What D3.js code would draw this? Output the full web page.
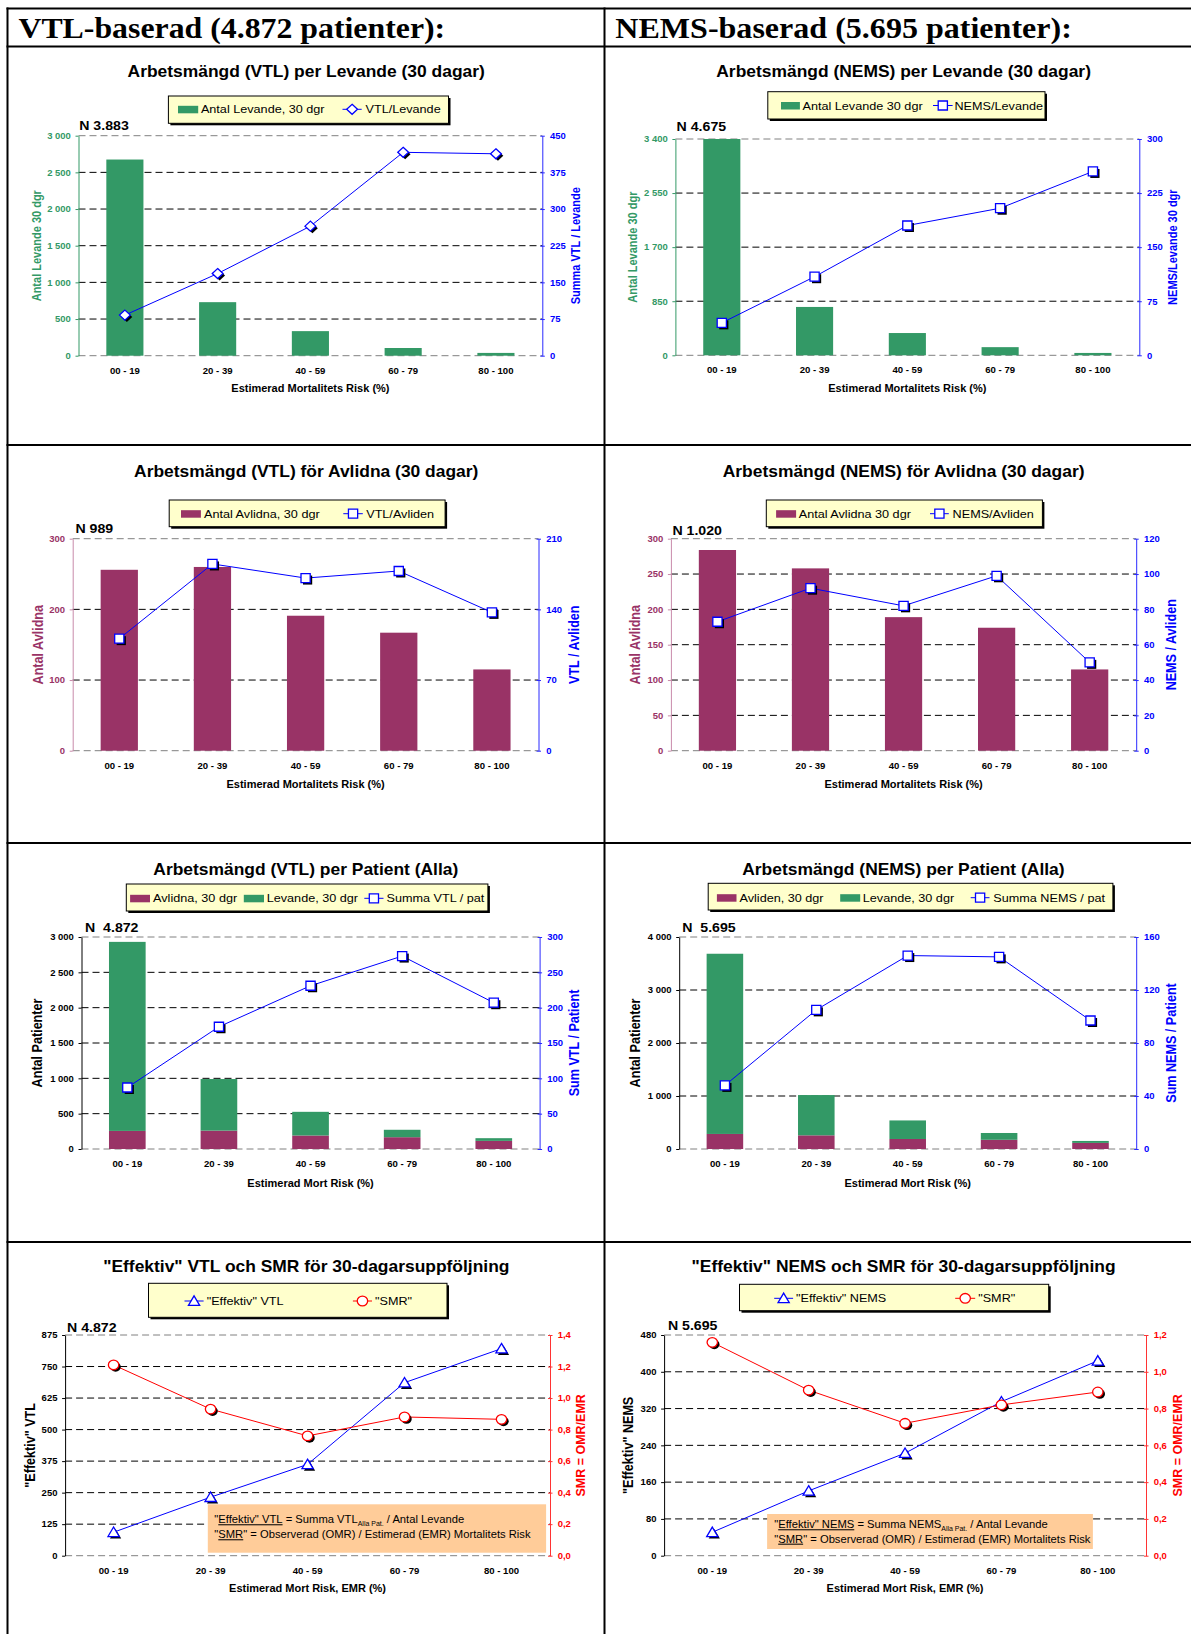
<!DOCTYPE html>
<html>
<head>
<meta charset="utf-8">
<script src="https://cdn.jsdelivr.net/npm/d3@7"></script>
<style>
  html, body { margin: 0; padding: 0; background: #fff; }
  svg { display: block; }
</style>
</head>
<body>
<svg id="page" width="1191" height="1634"></svg>
<script>
// ---- data -------------------------------------------------------------
const categories = ["00 - 19", "20 - 39", "40 - 59", "60 - 79", "80 - 100"];

// VTL-based cohort (4.872 patients)
const vtlLevande     = [2675, 730, 335, 105, 38];      // alive at 30 days (N 3.883)
const vtlPerLevande  = [83, 168, 265, 416, 413];
const vtlAvlidna     = [256, 260, 191, 167, 115];      // deceased at 30 days (N 989)
const vtlPerAvliden  = [111, 185, 171, 178, 137];
const vtlPerPatient  = [87, 173, 231, 273, 207];
const effektivVtl    = [93, 232, 362, 686, 821];
const smrVtl         = [1.21, 0.93, 0.76, 0.88, 0.865];

// NEMS-based cohort (5.695 patients)
const nemsLevande    = [3400, 760, 350, 128, 37];      // N 4.675
const nemsPerLevande = [45, 109, 180, 204, 255];
const nemsAvlidna    = [284, 258, 189, 174, 115];      // N 1.020
const nemsPerAvliden = [73, 92, 82, 99, 50];
const nemsPerPatient = [48, 105, 146, 145, 97];
const effektivNems   = [51, 141, 223, 335, 424];
const smrNems        = [1.16, 0.90, 0.72, 0.82, 0.89];

// axis tick values
const ticksLevVtl     = [0, 500, 1000, 1500, 2000, 2500, 3000];
const ticksVtlPerLev  = [0, 75, 150, 225, 300, 375, 450];
const ticksLevNems    = [0, 850, 1700, 2550, 3400];
const ticksNemsPerLev = [0, 75, 150, 225, 300];
const ticksAvlVtl     = [0, 100, 200, 300];
const ticksVtlPerAvl  = [0, 70, 140, 210];
const ticksAvlNems    = [0, 50, 100, 150, 200, 250, 300];
const ticksNemsPerAvl = [0, 20, 40, 60, 80, 100, 120];
const ticksPatVtl     = [0, 500, 1000, 1500, 2000, 2500, 3000];
const ticksVtlPerPat  = [0, 50, 100, 150, 200, 250, 300];
const ticksPatNems    = [0, 1000, 2000, 3000, 4000];
const ticksNemsPerPat = [0, 40, 80, 120, 160];
const ticksEffVtl     = [0, 125, 250, 375, 500, 625, 750, 875];
const ticksSmrVtl     = [0, 0.2, 0.4, 0.6, 0.8, 1.0, 1.2, 1.4];
const ticksEffNems    = [0, 80, 160, 240, 320, 400, 480];
const ticksSmrNems    = [0, 0.2, 0.4, 0.6, 0.8, 1.0, 1.2];

// ---- styling ----------------------------------------------------------
const GREEN = "#339966", MAROON = "#993366", BLUE = "#0000FF", RED = "#FF0000";
const SX = 1.09;                          // slight horizontal widening of all lettering
const sans = '"Liberation Sans", Arial, Helvetica, sans-serif';
const serif = '"Liberation Serif", "Times New Roman", serif';
const locale = d3.formatLocale({ decimal: ",", thousands: " ", grouping: [3], currency: ["", ""] });
const fmtInt = locale.format(",d");
const fmtDec = locale.format(".1f");

const svg = d3.select("#page");
svg.append("rect").attr("width", 1191).attr("height", 1634).attr("fill", "#fff");

function label(parent, x, y, s, o = {}) {
  const t = parent.append("text")
    .attr("transform", `translate(${x},${y}) scale(${SX},1)` + (o.rotate ? ` rotate(${o.rotate})` : ""))
    .attr("font-family", o.family || sans)
    .attr("font-size", o.size || 11)
    .attr("font-weight", o.weight || "normal")
    .attr("fill", o.fill || "#000")
    .attr("text-anchor", o.anchor || "start")
    .style("white-space", "pre")
    .text(s);
  if (o.central) t.attr("dominant-baseline", "central");
  return t;
}

function markerPath(type, cx, cy) {
  switch (type) {
    case "square":   return `M${cx-4.6},${cy-4.5}h9.2v9h-9.2Z`;
    case "diamond":  return `M${cx},${cy-5}L${cx+5.4},${cy}L${cx},${cy+5}L${cx-5.4},${cy}Z`;
    case "triangle": return `M${cx},${cy-5.2}L${cx+5.6},${cy+4.3}L${cx-5.6},${cy+4.3}Z`;
    case "circle":   return `M${cx-5.2},${cy}a5.2,4.8 0 1,0 10.4,0a5.2,4.8 0 1,0 -10.4,0Z`;
  }
}

function marker(parent, type, cx, cy, color, shadow) {
  if (shadow) {
    parent.append("path").attr("d", markerPath(type, cx + 2, cy + 2)).attr("fill", "#000");
  }
  parent.append("path").attr("d", markerPath(type, cx, cy))
    .attr("fill", "#fff").attr("stroke", color).attr("stroke-width", 1.3);
}

function drawTable() {
  const g = svg.append("g").attr("stroke", "#000").attr("stroke-width", 2);
  [8.5, 46.5, 445, 843, 1242].forEach(y =>
    g.append("line").attr("x1", 6.5).attr("x2", 1191).attr("y1", y).attr("y2", y));
  [7.5, 604.5].forEach(x =>
    g.append("line").attr("x1", x).attr("x2", x).attr("y1", 7.5).attr("y2", 1634));
  label(svg, 18.4, 38.3, "VTL-baserad (4.872 patienter):", { family: serif, size: 29.2, weight: "bold" });
  label(svg, 615.3, 38.3, "NEMS-baserad (5.695 patienter):", { family: serif, size: 29.4, weight: "bold" });
}

function drawLegend(g, L) {
  g.append("rect").attr("x", L.x + 2).attr("y", L.y + 2).attr("width", L.w).attr("height", L.h).attr("fill", "#000");
  g.append("rect").attr("x", L.x).attr("y", L.y).attr("width", L.w).attr("height", L.h)
    .attr("fill", "#FFFFCC").attr("stroke", "#000").attr("stroke-width", 1);
  L.items.forEach(it => {
    if (it.kind === "bar") {
      g.append("rect").attr("x", it.x).attr("y", L.ty - 7.5).attr("width", it.w).attr("height", 7.5).attr("fill", it.color);
    } else {
      const my = L.ty - 4;
      g.append("line").attr("x1", it.x1).attr("x2", it.x2).attr("y1", my).attr("y2", my)
        .attr("stroke", it.color).attr("stroke-width", 1);
      marker(g, it.marker, (it.x1 + it.x2) / 2, my, it.color, false);
    }
    label(g, it.tx, L.ty, it.label, { size: 11.6 });
  });
}

function drawNote(g, N) {
  g.append("rect").attr("x", N.x0).attr("y", N.y0).attr("width", N.x1 - N.x0).attr("height", N.y1 - N.y0)
    .attr("fill", "#FFCC99");
  const mk = (y) => g.append("text")
    .attr("transform", `translate(${N.tx},${y}) scale(${SX},1)`)
    .attr("font-family", sans).attr("font-size", 10.3).attr("fill", "#000")
    .style("white-space", "pre");
  const t1 = mk(N.b1);
  t1.append("tspan").text('"');
  t1.append("tspan").style("text-decoration", "underline").text(`Effektiv" ${N.unit}`);
  t1.append("tspan").text(` = Summa ${N.unit}`);
  t1.append("tspan").attr("font-size", 6.4).attr("dy", 2.2).text("Alla Pat.");
  t1.append("tspan").attr("dy", -2.2).text(" / Antal Levande");
  const t2 = mk(N.b2);
  t2.append("tspan").text('"');
  t2.append("tspan").style("text-decoration", "underline").text("SMR");
  t2.append("tspan").text('" = Observerad (OMR) / Estimerad (EMR) Mortalitets Risk');
}

function drawPanel(p) {
  const g = svg.append("g");
  const x = d3.scaleBand().domain(categories).range([p.x0, p.x1]).paddingInner(0.6).paddingOuter(0.3);
  const yL = d3.scaleLinear().domain([0, d3.max(p.leftTicks)]).range([p.bottom, p.top]).clamp(true);
  const yR = d3.scaleLinear().domain([0, d3.max(p.rightTicks)]).range([p.bottom, p.top]);
  const cx = c => x(c) + x.bandwidth() / 2;

  label(g, p.titleX, p.titleY, p.title, { size: 16, weight: "bold", anchor: "middle" });

  // dashed value grid
  g.append("g").selectAll("line").data(p.leftTicks).join("line")
    .attr("x1", p.x0).attr("x2", p.x1)
    .attr("y1", d => yL(d)).attr("y2", d => yL(d))
    .attr("stroke", (d, i, a) => (i === 0 || i === a.length - 1) ? "#808080" : "#000")
    .attr("stroke-width", 1)
    .attr("stroke-dasharray", "7,4");

  if (p.note) drawNote(g, p.note);

  // bars
  if (p.stack) {
    const rows = categories.map((c, i) => ({ cat: c, a: p.stack[0].values[i], b: p.stack[1].values[i] }));
    const series = d3.stack().keys(["a", "b"])(rows);
    g.append("g").selectAll("g").data(series).join("g")
      .attr("fill", (d, i) => p.stack[i].color)
      .selectAll("rect").data(d => d).join("rect")
      .attr("x", d => x(d.data.cat)).attr("width", x.bandwidth())
      .attr("y", d => yL(d[1])).attr("height", d => yL(d[0]) - yL(d[1]));
  } else if (p.bars) {
    g.append("g").selectAll("rect").data(p.bars.values).join("rect")
      .attr("fill", p.bars.color)
      .attr("x", (d, i) => x(categories[i])).attr("width", x.bandwidth())
      .attr("y", d => yL(d)).attr("height", d => yL(0) - yL(d));
  }

  // left axis
  const gl = g.append("g").attr("transform", `translate(${p.x0},0)`)
    .call(d3.axisLeft(yL).tickValues(p.leftTicks).tickFormat(p.leftFmt || fmtInt).tickSize(3).tickSizeOuter(0));
  gl.select(".domain").attr("stroke", p.leftLine);
  gl.selectAll(".tick line").attr("stroke", p.leftLine);
  gl.selectAll(".tick text").attr("fill", p.leftColor).attr("font-size", 8.7).attr("font-weight", "bold")
    .attr("font-family", sans).attr("x", -7.7 / SX).attr("transform", `scale(${SX},1)`);

  // right axis
  const gr = g.append("g").attr("transform", `translate(${p.x1},0)`)
    .call(d3.axisRight(yR).tickValues(p.rightTicks).tickFormat(p.rightFmt || fmtInt).tickSize(3).tickSizeOuter(0));
  gr.select(".domain").attr("stroke", p.rightLine);
  gr.selectAll(".tick line").attr("stroke", p.rightLine).attr("x1", -2).attr("x2", 2.5);
  gr.selectAll(".tick text").attr("fill", p.rightColor).attr("font-size", 8.7).attr("font-weight", "bold")
    .attr("font-family", sans).attr("x", 7.7 / SX).attr("transform", `scale(${SX},1)`);

  // category labels
  const gx = g.append("g").attr("transform", `translate(0,${p.bottom})`)
    .call(d3.axisBottom(x).tickSize(0));
  gx.select(".domain").remove();
  gx.selectAll(".tick text").attr("y", 18).attr("dy", 0).attr("fill", "#000").attr("font-size", 8.8)
    .attr("font-weight", "bold").attr("font-family", sans).attr("transform", `scale(${SX},1)`);

  // axis titles
  const midY = (p.top + p.bottom) / 2;
  label(g, (p.x0 + p.x1) / 2, p.xTitleY, p.xTitle, { size: 10.1, weight: "bold", anchor: "middle" });
  label(g, p.leftTitleX, midY, p.leftTitle,
    { size: p.leftTitleSize, weight: "bold", anchor: "middle", central: true, rotate: -90, fill: p.leftColor });
  label(g, p.rightTitleX, midY, p.rightTitle,
    { size: p.rightTitleSize, weight: "bold", anchor: "middle", central: true, rotate: -90, fill: p.rightColor });

  // N label
  label(g, p.n.x, p.n.y, p.n.text, { size: 13, weight: "bold" });

  // line series with shadowed markers
  p.lines.forEach(s => {
    const yS = s.axis === "left" ? yL : yR;
    const line = d3.line().x((d, i) => cx(categories[i])).y(d => yS(d));
    g.append("path").attr("d", line(s.values)).attr("fill", "none").attr("stroke", s.color).attr("stroke-width", 1);
    const mg = g.append("g");
    s.values.forEach((v, i) => marker(mg, s.marker, cx(categories[i]), yS(v), s.color, true));
  });

  drawLegend(g.append("g"), p.legend);
}

drawTable();

// ---- panels -----------------------------------------------------------
drawPanel({
  title: "Arbetsmängd (VTL) per Levande (30 dagar)", titleX: 306.2, titleY: 77.3,
  x0: 78.5, x1: 542.3, top: 135.7, bottom: 355.7,
  leftTicks: ticksLevVtl, rightTicks: ticksVtlPerLev,
  leftColor: GREEN, leftLine: GREEN, rightColor: BLUE, rightLine: "#2a2aff",
  leftTitle: "Antal Levande 30 dgr", leftTitleX: 36.4, leftTitleSize: 11,
  rightTitle: "Summa VTL / Levande", rightTitleX: 576, rightTitleSize: 11,
  bars: { values: vtlLevande, color: GREEN },
  lines: [{ values: vtlPerLevande, axis: "right", color: BLUE, marker: "diamond" }],
  n: { text: "N 3.883", x: 79.2, y: 130 },
  legend: { x: 168.4, y: 96, w: 280.1, h: 27.3, ty: 113.3, items: [
    { kind: "bar", color: GREEN, x: 178, w: 20.2, label: "Antal Levande, 30 dgr", tx: 200.9 },
    { kind: "line", color: BLUE, marker: "diamond", x1: 342.5, x2: 361.7, label: "VTL/Levande", tx: 365.5 }] },
  xTitle: "Estimerad Mortalitets Risk (%)", xTitleY: 391.7
});

drawPanel({
  title: "Arbetsmängd (NEMS) per Levande (30 dagar)", titleX: 903.6, titleY: 77.3,
  x0: 675.4, x1: 1139.3, top: 139, bottom: 355.3,
  leftTicks: ticksLevNems, rightTicks: ticksNemsPerLev,
  leftColor: GREEN, leftLine: GREEN, rightColor: BLUE, rightLine: "#2a2aff",
  leftTitle: "Antal Levande 30 dgr", leftTitleX: 633.2, leftTitleSize: 11,
  rightTitle: "NEMS/Levande 30 dgr", rightTitleX: 1173.2, rightTitleSize: 11,
  bars: { values: nemsLevande, color: GREEN },
  lines: [{ values: nemsPerLevande, axis: "right", color: BLUE, marker: "square" }],
  n: { text: "N 4.675", x: 676.6, y: 131 },
  legend: { x: 767.8, y: 91.7, w: 277.2, h: 27.3, ty: 109.5, items: [
    { kind: "bar", color: GREEN, x: 781, w: 18.9, label: "Antal Levande 30 dgr", tx: 802.5 },
    { kind: "line", color: BLUE, marker: "square", x1: 933, x2: 952.6, label: "NEMS/Levande", tx: 954.5 }] },
  xTitle: "Estimerad Mortalitets Risk (%)", xTitleY: 391.7
});

drawPanel({
  title: "Arbetsmängd (VTL) för Avlidna (30 dagar)", titleX: 306.2, titleY: 476.7,
  x0: 72.7, x1: 538.5, top: 538.7, bottom: 750.7,
  leftTicks: ticksAvlVtl, rightTicks: ticksVtlPerAvl,
  leftColor: MAROON, leftLine: "#c98aaa", rightColor: BLUE, rightLine: "#2a2aff",
  leftTitle: "Antal Avlidna", leftTitleX: 38.3, leftTitleSize: 12.6,
  rightTitle: "VTL / Avliden", rightTitleX: 574, rightTitleSize: 12.6,
  bars: { values: vtlAvlidna, color: MAROON },
  lines: [{ values: vtlPerAvliden, axis: "right", color: BLUE, marker: "square" }],
  n: { text: "N 989", x: 75.4, y: 532.7 },
  legend: { x: 169.2, y: 500, w: 275.9, h: 26.7, ty: 517.7, items: [
    { kind: "bar", color: MAROON, x: 181, w: 19.9, label: "Antal Avlidna, 30 dgr", tx: 204 },
    { kind: "line", color: BLUE, marker: "square", x1: 343.3, x2: 362.8, label: "VTL/Avliden", tx: 366.2 }] },
  xTitle: "Estimerad Mortalitets Risk (%)", xTitleY: 788.3
});

drawPanel({
  title: "Arbetsmängd (NEMS) för Avlidna (30 dagar)", titleX: 903.6, titleY: 476.7,
  x0: 670.9, x1: 1136.2, top: 538.7, bottom: 750.7,
  leftTicks: ticksAvlNems, rightTicks: ticksNemsPerAvl,
  leftColor: MAROON, leftLine: "#c98aaa", rightColor: BLUE, rightLine: "#2a2aff",
  leftTitle: "Antal Avlidna", leftTitleX: 635.1, leftTitleSize: 12.6,
  rightTitle: "NEMS / Avliden", rightTitleX: 1171.3, rightTitleSize: 12.6,
  bars: { values: nemsAvlidna, color: MAROON },
  lines: [{ values: nemsPerAvliden, axis: "right", color: BLUE, marker: "square" }],
  n: { text: "N 1.020", x: 672.4, y: 535 },
  legend: { x: 766.3, y: 500, w: 276.1, h: 26.7, ty: 517.7, items: [
    { kind: "bar", color: MAROON, x: 776.1, w: 20, label: "Antal Avlidna 30 dgr", tx: 798.7 },
    { kind: "line", color: BLUE, marker: "square", x1: 930, x2: 948.8, label: "NEMS/Avliden", tx: 952.6 }] },
  xTitle: "Estimerad Mortalitets Risk (%)", xTitleY: 788.3
});

drawPanel({
  title: "Arbetsmängd (VTL) per Patient (Alla)", titleX: 305.8, titleY: 875,
  x0: 81.5, x1: 539.6, top: 937, bottom: 1149,
  leftTicks: ticksPatVtl, rightTicks: ticksVtlPerPat,
  leftColor: "#000", leftLine: "#000", rightColor: BLUE, rightLine: "#2a2aff",
  leftTitle: "Antal Patienter", leftTitleX: 37.5, leftTitleSize: 12.6,
  rightTitle: "Sum VTL / Patient", rightTitleX: 574, rightTitleSize: 12.6,
  stack: [{ values: vtlAvlidna, color: MAROON }, { values: vtlLevande, color: GREEN }],
  lines: [{ values: vtlPerPatient, axis: "right", color: BLUE, marker: "square" }],
  n: { text: "N  4.872", x: 85, y: 931.7 },
  legend: { x: 126.3, y: 884, w: 361.6, h: 27, ty: 902.3, items: [
    { kind: "bar", color: MAROON, x: 130.1, w: 19.9, label: "Avlidna, 30 dgr", tx: 153.1 },
    { kind: "bar", color: GREEN, x: 243.8, w: 20.2, label: "Levande, 30 dgr", tx: 266.7 },
    { kind: "line", color: BLUE, marker: "square", x1: 364.3, x2: 383.5, label: "Summa VTL / pat", tx: 386.5 }] },
  xTitle: "Estimerad Mort Risk (%)", xTitleY: 1186.7
});

drawPanel({
  title: "Arbetsmängd (NEMS) per Patient (Alla)", titleX: 903.4, titleY: 875,
  x0: 679.2, x1: 1136.2, top: 937, bottom: 1149,
  leftTicks: ticksPatNems, rightTicks: ticksNemsPerPat,
  leftColor: "#000", leftLine: "#000", rightColor: BLUE, rightLine: "#2a2aff",
  leftTitle: "Antal Patienter", leftTitleX: 635.1, leftTitleSize: 12.6,
  rightTitle: "Sum NEMS / Patient", rightTitleX: 1171.3, rightTitleSize: 12.6,
  stack: [{ values: nemsAvlidna, color: MAROON }, { values: nemsLevande, color: GREEN }],
  lines: [{ values: nemsPerPatient, axis: "right", color: BLUE, marker: "square" }],
  n: { text: "N  5.695", x: 682.2, y: 931.7 },
  legend: { x: 708.2, y: 883.3, w: 404.7, h: 26.7, ty: 901.7, items: [
    { kind: "bar", color: MAROON, x: 716.9, w: 19.6, label: "Avliden, 30 dgr", tx: 739.5 },
    { kind: "bar", color: GREEN, x: 840.2, w: 20, label: "Levande, 30 dgr", tx: 862.8 },
    { kind: "line", color: BLUE, marker: "square", x1: 970.7, x2: 989.5, label: "Summa NEMS / pat", tx: 993.3 }] },
  xTitle: "Estimerad Mort Risk (%)", xTitleY: 1186.7
});

drawPanel({
  title: '"Effektiv" VTL och SMR för 30-dagarsuppföljning', titleX: 306.3, titleY: 1272.3,
  x0: 65.1, x1: 550, top: 1335, bottom: 1555.7,
  leftTicks: ticksEffVtl, rightTicks: ticksSmrVtl, rightFmt: fmtDec,
  leftColor: "#000", leftLine: "#000", rightColor: RED, rightLine: "#ff3333",
  leftTitle: '"Effektiv" VTL', leftTitleX: 29.9, leftTitleSize: 12.6,
  rightTitle: "SMR = OMR/EMR", rightTitleX: 580.6, rightTitleSize: 12.5,
  lines: [
    { values: effektivVtl, axis: "left", color: BLUE, marker: "triangle" },
    { values: smrVtl, axis: "right", color: RED, marker: "circle" }],
  n: { text: "N 4.872", x: 67, y: 1331.7 },
  legend: { x: 148.5, y: 1283.3, w: 298.5, h: 34, ty: 1305, items: [
    { kind: "line", color: BLUE, marker: "triangle", x1: 184.5, x2: 203.6, label: '"Effektiv" VTL', tx: 206.7 },
    { kind: "line", color: RED, marker: "circle", x1: 352.9, x2: 372, label: '"SMR"', tx: 375 }] },
  note: { x0: 207.8, x1: 546.1, y0: 1504.3, y1: 1552.7, tx: 214.3, b1: 1523.3, b2: 1538.3, unit: "VTL" },
  xTitle: "Estimerad Mort Risk, EMR (%)", xTitleY: 1591.7
});

drawPanel({
  title: '"Effektiv" NEMS och SMR för 30-dagarsuppföljning', titleX: 903.6, titleY: 1272.3,
  x0: 664.1, x1: 1146, top: 1335, bottom: 1555.7,
  leftTicks: ticksEffNems, rightTicks: ticksSmrNems, rightFmt: fmtDec,
  leftColor: "#000", leftLine: "#000", rightColor: RED, rightLine: "#ff3333",
  leftTitle: '"Effektiv" NEMS', leftTitleX: 628.3, leftTitleSize: 12.6,
  rightTitle: "SMR = OMR/EMR", rightTitleX: 1177, rightTitleSize: 12.5,
  lines: [
    { values: effektivNems, axis: "left", color: BLUE, marker: "triangle" },
    { values: smrNems, axis: "right", color: RED, marker: "circle" }],
  n: { text: "N 5.695", x: 667.9, y: 1330 },
  legend: { x: 739.5, y: 1284.3, w: 309.2, h: 26.4, ty: 1302.3, items: [
    { kind: "line", color: BLUE, marker: "triangle", x1: 774.2, x2: 793.1, label: '"Effektiv" NEMS', tx: 796.1 },
    { kind: "line", color: RED, marker: "circle", x1: 955.2, x2: 975.2, label: '"SMR"', tx: 978.2 }] },
  note: { x0: 767.1, x1: 1092.9, y0: 1514, y1: 1549, tx: 774.2, b1: 1528.3, b2: 1542.7, unit: "NEMS" },
  xTitle: "Estimerad Mort Risk, EMR (%)", xTitleY: 1591.7
});
</script>
</body>
</html>
